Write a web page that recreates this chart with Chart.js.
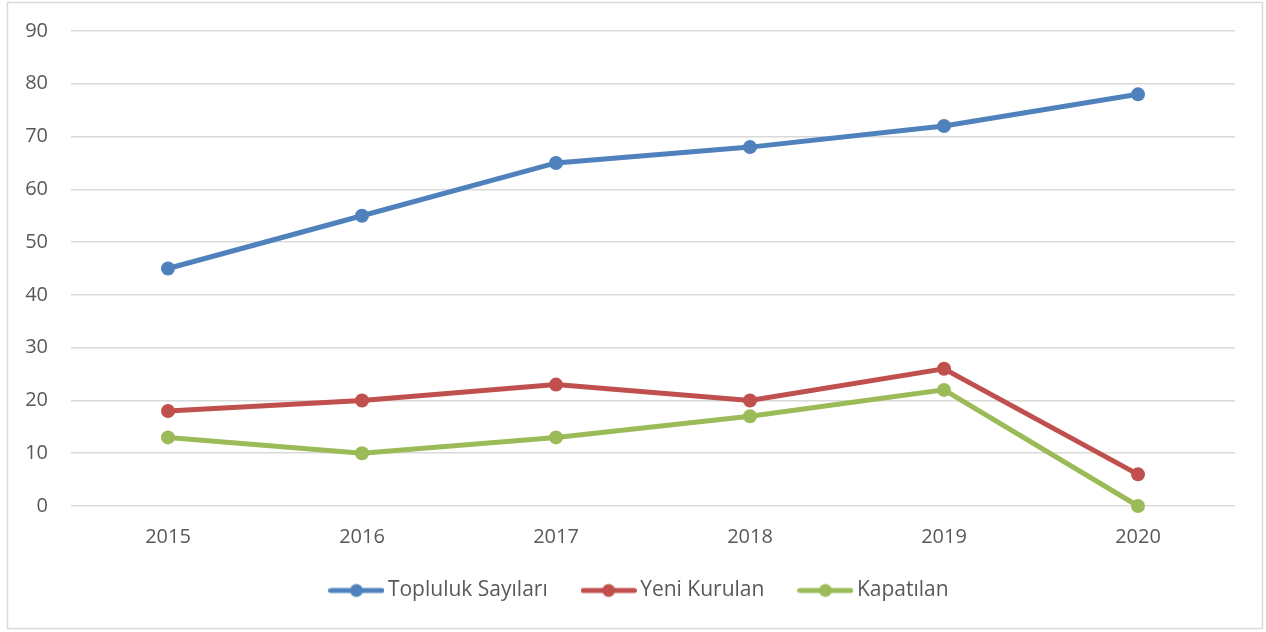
<!DOCTYPE html>
<html>
<head>
<meta charset="utf-8">
<script src="https://cdn.jsdelivr.net/npm/chart.js@4"></script>
<style>
  html, body { margin: 0; padding: 0; background: #fff; }
  #wrap { width: 1266px; height: 632px; }
</style>
</head>
<body>
<div id="wrap"><canvas id="myChart" width="1266" height="632"></canvas></div>
<script>
const years = ["2015", "2016", "2017", "2018", "2019", "2020"];
const topluluk = [45, 55, 65, 68, 72, 78];
const yeniKurulan = [18, 20, 23, 20, 26, 6];
const kapatilan = [13, 10, 13, 17, 22, 0];
const yTicks = [0, 10, 20, 30, 40, 50, 60, 70, 80, 90];

const blue = "#4f81bd";
const red = "#c0504d";
const green = "#9bbb59";
const textColor = "#595959";
const fontFamily = "'Open Sans', 'Noto Sans', sans-serif";

// legend marker: line with dot in the middle
function legendIcon(color) {
  const c = document.createElement("canvas");
  c.width = 56;
  c.height = 16;
  const ctx = c.getContext("2d");
  ctx.strokeStyle = color;
  ctx.lineWidth = 5;
  ctx.lineCap = "round";
  ctx.beginPath();
  ctx.moveTo(2.5, 8);
  ctx.lineTo(53.5, 8);
  ctx.stroke();
  ctx.fillStyle = color;
  ctx.beginPath();
  ctx.arc(28, 8, 6.5, 0, Math.PI * 2);
  ctx.fill();
  return c;
}

const borderBox = {
  id: "borderBox",
  beforeDraw(chart) {
    const ctx = chart.ctx;
    ctx.save();
    ctx.strokeStyle = "#d9d9d9";
    ctx.lineWidth = 1.5;
    ctx.strokeRect(7.5, 2.5, 1255, 626);
    ctx.restore();
  },
};

// nudge the legend right and let the year labels hang below the x box
const layoutTweaks = {
  id: "layoutTweaks",
  afterLayout(chart) {
    chart.legend.left += 21;
    chart.legend.right += 21;
    chart.scales.x.bottom += 30;
  },
};

function makeSet(label, values, color) {
  return {
    label: label,
    data: values,
    borderColor: color,
    backgroundColor: color,
    borderWidth: 5,
    pointRadius: 7,
    pointHoverRadius: 7,
    pointBorderWidth: 0,
    pointStyle: "circle",
    tension: 0,
    clip: false,
  };
}

function initChart(chart) {
  const datasets = [
    makeSet("Topluluk Sayıları", topluluk, blue),
    makeSet("Yeni Kurulan", yeniKurulan, red),
    makeSet("Kapatılan", kapatilan, green),
  ];

  const config = {
    type: "line",
    data: { labels: years, datasets: datasets },
    options: {
      responsive: false,
      animation: false,
      layout: { padding: { left: 7, right: 31, top: 31, bottom: 21 } },
      plugins: {
        legend: {
          position: "bottom",
          labels: {
            color: textColor,
            font: { family: fontFamily, size: 21 },
            usePointStyle: true,
            pointStyleWidth: 42,
            boxHeight: 16,
            padding: 40,
            generateLabels(ch) {
              return ch.data.datasets.map((d, i) => ({
                text: d.label,
                fontColor: textColor,
                pointStyle: legendIcon(d.borderColor),
                datasetIndex: i,
                lineWidth: 0,
                hidden: false,
              }));
            },
          },
        },
        tooltip: { enabled: false },
      },
      scales: {
        x: {
          offset: true,
          grid: { display: false },
          border: { display: false },
          afterFit(scale) {
            scale.height = 34;
          },
          ticks: {
            color: textColor,
            padding: 11,
            font: { family: fontFamily, size: 20 },
          },
        },
        y: {
          min: 0,
          max: 90,
          afterBuildTicks(scale) {
            scale.ticks = yTicks.map((v) => ({ value: v }));
          },
          afterFit(scale) {
            scale.width = 64;
            scale.paddingTop = 0;
            scale.paddingBottom = 0;
          },
          grid: { color: "#d9d9d9", lineWidth: 1.5, drawTicks: false },
          border: { display: false },
          ticks: {
            color: textColor,
            padding: 23,
            font: { family: fontFamily, size: 20 },
          },
        },
      },
    },
    plugins: [borderBox, layoutTweaks],
  };
  return new Chart(chart, config);
}

document.addEventListener("DOMContentLoaded", () => {
  initChart(document.querySelector("#myChart"));
});
</script>
</body>
</html>
